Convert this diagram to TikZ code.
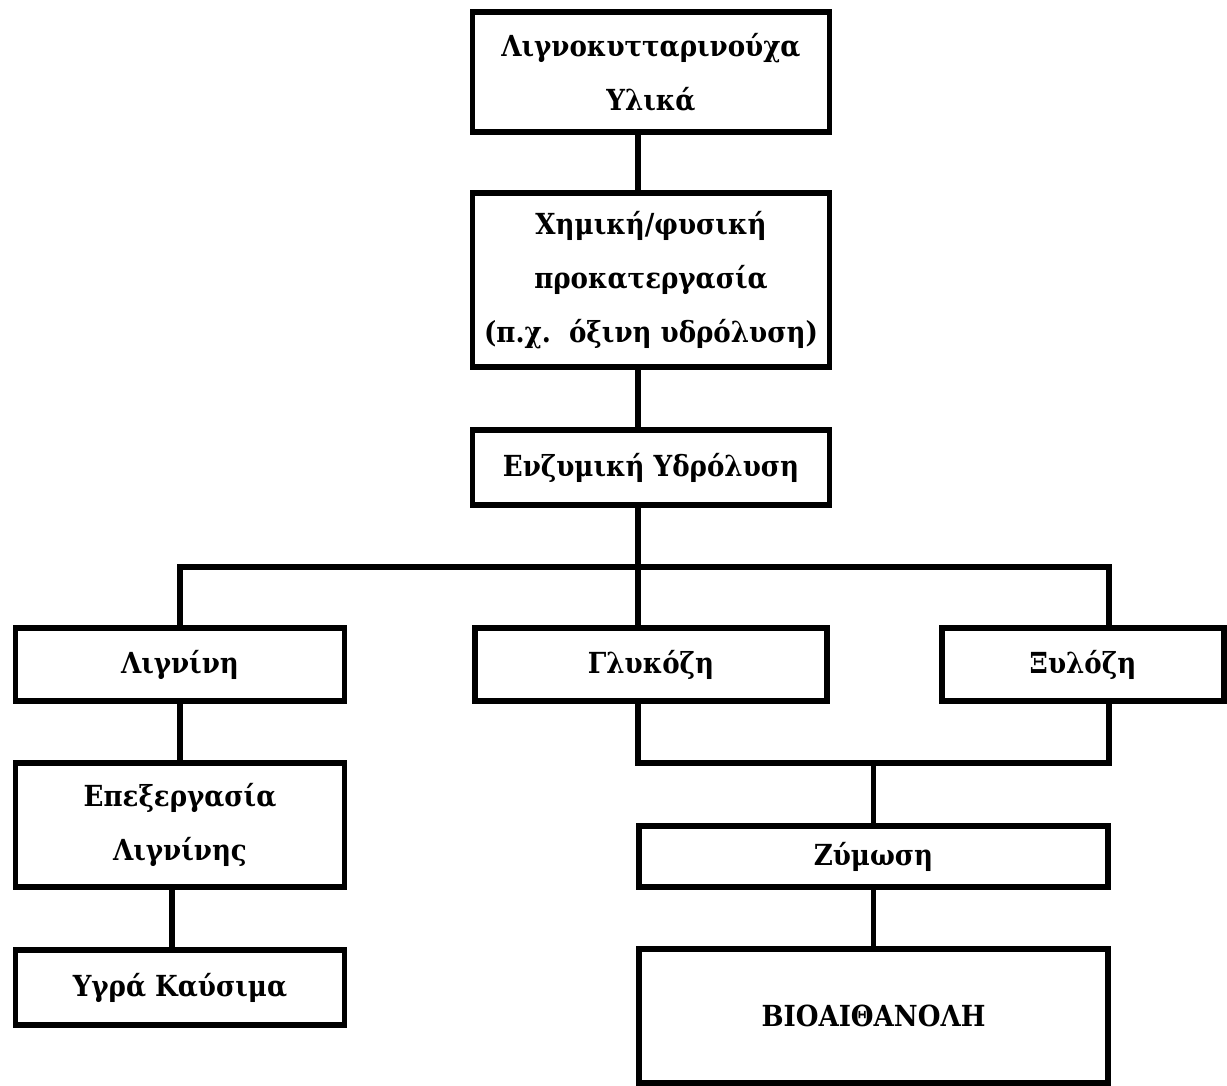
\documentclass[tikz,border=0pt]{standalone}
\usepackage{fontspec}
\setmainfont{DejaVu Serif Condensed}
\begin{document}
\begin{tikzpicture}[x=1pt,y=-1pt,
  box/.style={draw=black,line width=5.5pt,rectangle,inner sep=0pt,align=center,
    font=\fontsize{29}{54}\selectfont\bfseries},
  conn/.style={draw=black,line width=5.5pt}]
\useasboundingbox (0,0) rectangle (1227,1086);
\fill[white] (0,0) rectangle (1227,1086);
% boxes
\node[box,minimum width=357pt,minimum height=120pt] (b1) at (651,72) {Λιγνοκυτταρινούχα\\Υλικά};
\node[box,minimum width=357pt,minimum height=174pt] (b2) at (651,280) {Χημική/φυσική\\προκατεργασία\\(π.χ.\ \ όξινη υδρόλυση)};
\node[box,minimum width=357pt,minimum height=75pt] (b3) at (651,467.5) {Ενζυμική Υδρόλυση};
\node[box,minimum width=329pt,minimum height=73pt] (lig) at (180,664.5) {Λιγνίνη};
\node[box,minimum width=352pt,minimum height=73pt] (glu) at (651,664.5) {Γλυκόζη};
\node[box,minimum width=282pt,minimum height=73pt] (xyl) at (1083,664.5) {Ξυλόζη};
\node[box,minimum width=329pt,minimum height=124pt] (epex) at (180,825) {Επεξεργασία\\Λιγνίνης};
\node[box,minimum width=329pt,minimum height=75pt] (ygra) at (180,987.5) {Υγρά Καύσιμα};
\node[box,minimum width=469pt,minimum height=61pt] (zym) at (873.5,856.5) {Ζύμωση};
\node[box,minimum width=469pt,minimum height=134pt] (bio) at (873.5,1016) {ΒΙΟΑΙΘΑΝΟΛΗ};
% helper coordinates
\coordinate (sp) at (638,567);
\coordinate (lx) at (180,567);
\coordinate (rx) at (1109,567);
\coordinate (jl) at (638,763);
\coordinate (jr) at (1109,763);
\coordinate (jc) at (873.5,763);
\coordinate (ex) at (172,0);
% connectors
\draw[conn] (b1.south -| sp) -- (b2.north -| sp);
\draw[conn] (b2.south -| sp) -- (b3.north -| sp);
\draw[conn] (b3.south -| sp) -- (sp);
\draw[conn] (lig.north -| lx) -- (lx) -- (rx) -- (xyl.north -| rx);
\draw[conn] (sp) -- (glu.north -| sp);
\draw[conn] (lig.south) -- (epex.north);
\draw[conn] (epex.south -| ex) -- (ygra.north -| ex);
\draw[conn] (glu.south -| jl) -- (jl) -- (jr) -- (xyl.south -| jr);
\draw[conn] (jc) -- (zym.north);
\draw[conn] (zym.south) -- (bio.north);
\end{tikzpicture}
\end{document}
